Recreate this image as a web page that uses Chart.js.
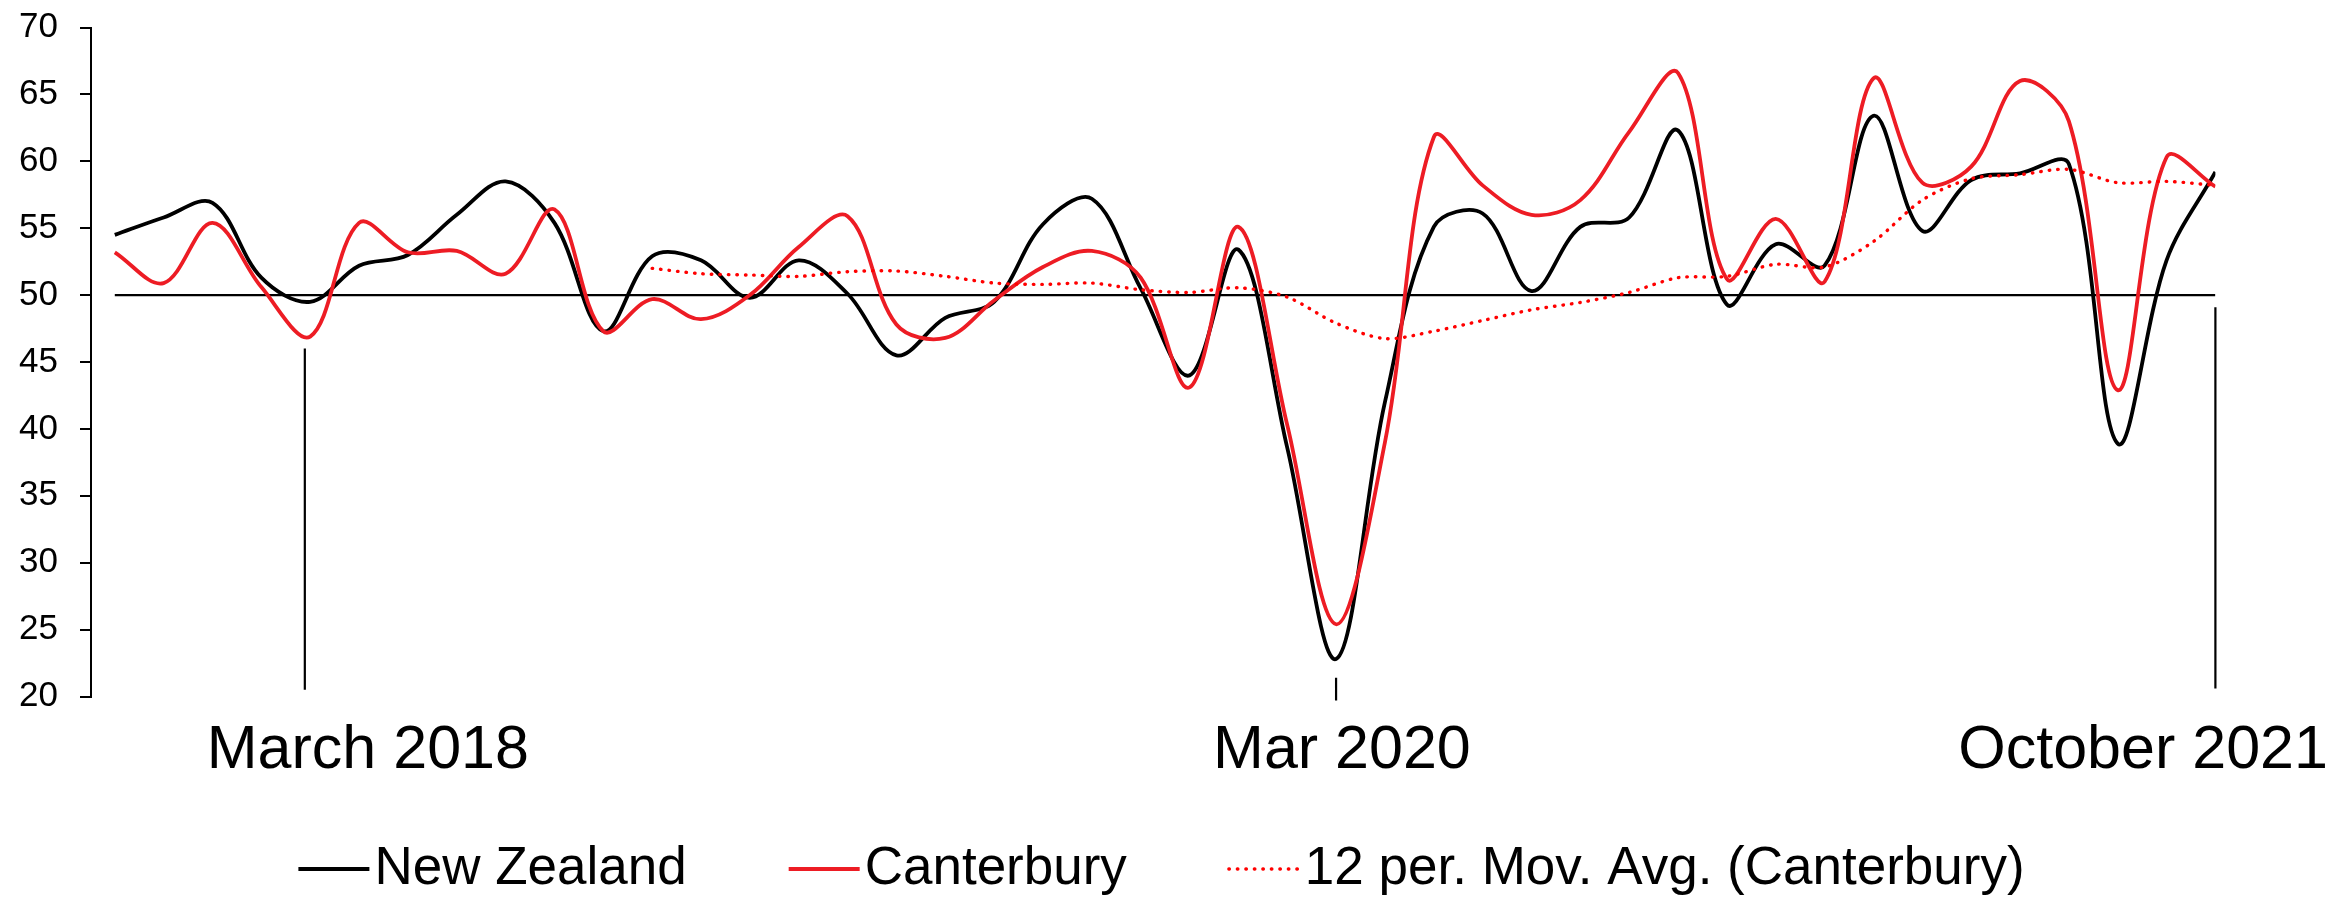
<!DOCTYPE html>
<html>
<head>
<meta charset="utf-8">
<script src="https://cdn.jsdelivr.net/npm/chart.js@4.4.1/dist/chart.umd.min.js"></script>
<style>
  html, body { margin: 0; padding: 0; background: #fff; }
  #wrap { width: 2331px; height: 898px; }
</style>
</head>
<body>
<div id="wrap"><canvas id="pmi"></canvas></div>
<script>
// monthly categories, Mar 2018 - Oct 2021
const months = [
  'Mar 2018', 'Apr 2018', 'May 2018', 'Jun 2018', 'Jul 2018', 'Aug 2018', 'Sep 2018', 'Oct 2018', 'Nov 2018', 'Dec 2018',
  'Jan 2019', 'Feb 2019', 'Mar 2019', 'Apr 2019', 'May 2019', 'Jun 2019', 'Jul 2019', 'Aug 2019', 'Sep 2019', 'Oct 2019', 'Nov 2019', 'Dec 2019',
  'Jan 2020', 'Feb 2020', 'Mar 2020', 'Apr 2020', 'May 2020', 'Jun 2020', 'Jul 2020', 'Aug 2020', 'Sep 2020', 'Oct 2020', 'Nov 2020', 'Dec 2020',
  'Jan 2021', 'Feb 2021', 'Mar 2021', 'Apr 2021', 'May 2021', 'Jun 2021', 'Jul 2021', 'Aug 2021', 'Sep 2021', 'Oct 2021'
];

const newZealand = [54.5, 55.8, 56.9, 51.3, 49.5, 52.2, 53.0, 56.0, 58.5, 55.4,
  47.3, 52.9, 52.6, 49.8, 52.6, 50.1, 45.5, 48.3, 49.5, 55.3, 57.2, 50.5,
  44.0, 53.4, 38.6, 22.8, 42.0, 55.1, 56.1, 50.3, 55.1, 55.8, 62.3, 49.3,
  53.8, 52.2, 63.4, 54.8, 58.6, 59.1, 59.8, 38.9, 52.6, 59.2];

const canterbury = [53.2, 50.9, 55.4, 50.6, 46.9, 55.4, 53.2, 53.3, 51.6, 56.4,
  47.3, 49.7, 48.2, 50.0, 53.6, 55.9, 47.8, 46.8, 49.6, 52.1, 53.3, 51.3,
  43.1, 55.1, 40.3, 25.4, 39.0, 61.8, 58.2, 56.0, 57.1, 62.2, 66.6, 51.2,
  55.7, 51.0, 66.2, 58.4, 59.6, 66.0, 63.0, 42.9, 60.3, 58.1];

// 12 per. moving average of Canterbury (as drawn)
const movingAvg = [null, null, null, null, null, null, null, null, null, null,
  null, 52.0, 51.6, 51.5, 51.4, 51.75, 51.8, 51.4, 50.9, 50.8, 50.9, 50.4,
  50.2, 50.55, 49.85, 47.9, 46.75, 47.3, 48.1, 48.9, 49.45, 50.2, 51.3, 51.4,
  52.3, 52.1, 54.0, 57.1, 58.7, 59.0, 59.4, 58.4, 58.5, 58.2];

const threshold = 50;

// axis labels and where they sit (in category units)
const xTickText = ['March 2018', 'Mar 2020', 'October 2021'];
const xTickPos = [5.18, 25.12, 41.52];

// the three drop lines / tick under the axis
const markerPos = [3.89, 25, 43];
const markerTop = [46.0, 21.4, 49.1];
const markerBottom = [20.5, 19.7, 20.6];

const FONT = "'Liberation Sans', Arial, Helvetica, sans-serif";
Chart.defaults.font.family = FONT;
Chart.defaults.color = '#000';

const toPoints = arr => arr.map((v, i) => ({ x: i, y: v }));

const markerData = [];
markerPos.forEach((p, i) => {
  markerData.push({ x: p, y: markerTop[i] }, { x: p, y: markerBottom[i] }, { x: p, y: null });
});

// legend drawn under the axis labels, line sample right against the text
const bottomLegend = {
  id: 'bottomLegend',
  afterDraw(chart) {
    const ctx = chart.ctx;
    const items = chart.data.datasets.filter(d => d.inLegend);
    const lineLen = 71, gap = 5, spacing = 102, y = 869;
    ctx.save();
    ctx.font = '53px ' + FONT;
    ctx.textBaseline = 'middle';
    let total = 0;
    items.forEach((d, i) => {
      total += lineLen + gap + ctx.measureText(d.label).width + (i ? spacing : 0);
    });
    let x = chart.width / 2 - total / 2 - 4;
    items.forEach(d => {
      ctx.beginPath();
      ctx.strokeStyle = d.borderColor;
      ctx.lineWidth = d.borderWidth;
      ctx.setLineDash(d.borderDash || []);
      ctx.lineCap = d.borderCapStyle || 'butt';
      ctx.moveTo(x, y);
      ctx.lineTo(x + lineLen, y);
      ctx.stroke();
      x += lineLen + gap;
      ctx.setLineDash([]);
      ctx.fillStyle = '#000';
      ctx.fillText(d.label, x, y);
      x += ctx.measureText(d.label).width + spacing;
    });
    ctx.restore();
  }
};

new Chart(document.getElementById('pmi'), {
  type: 'line',
  data: {
    labels: months,
    datasets: [
      {
        label: 'New Zealand',
        inLegend: true,
        data: toPoints(newZealand),
        borderColor: '#000000',
        borderWidth: 3.8,
        tension: 0.35,
        pointRadius: 0,
        order: 3
      },
      {
        label: 'Canterbury',
        inLegend: true,
        data: toPoints(canterbury),
        borderColor: '#ED1C24',
        borderWidth: 3.8,
        tension: 0.35,
        pointRadius: 0,
        order: 2
      },
      {
        label: '12 per. Mov. Avg. (Canterbury)',
        inLegend: true,
        data: toPoints(movingAvg),
        borderColor: '#FF0000',
        borderWidth: 3.4,
        borderDash: [0.5, 8],
        borderCapStyle: 'round',
        tension: 0.3,
        pointRadius: 0,
        order: 1
      },
      {
        label: 'fifty',
        data: [{ x: 0, y: threshold }, { x: months.length - 1, y: threshold }],
        borderColor: '#000000',
        borderWidth: 2.2,
        pointRadius: 0,
        order: 4
      },
      {
        label: 'markers',
        data: markerData,
        borderColor: '#000000',
        borderWidth: 2.2,
        pointRadius: 0,
        spanGaps: false,
        clip: false,
        order: 5
      }
    ]
  },
  options: {
    responsive: true,
    maintainAspectRatio: false,
    animation: false,
    events: [],
    layout: { padding: { top: 27.5, right: 115.6, bottom: 101.5, left: 0 } },
    plugins: {
      legend: { display: false },
      tooltip: { enabled: false }
    },
    scales: {
      x: {
        type: 'linear',
        min: -0.487,
        max: 43,
        grid: { display: false },
        border: { display: false },
        ticks: {
          autoSkip: false,
          maxRotation: 0,
          padding: 10,
          color: '#000',
          font: { size: 61 },
          callback: (v, i) => xTickText[i]
        },
        afterBuildTicks: s => { s.ticks = xTickPos.map(v => ({ value: v })); },
        afterFit: s => { s.height = 100; s.paddingLeft = 0; s.paddingRight = 0; }
      },
      y: {
        min: 20,
        max: 70,
        ticks: { stepSize: 5, padding: 22, color: '#000', font: { size: 35 } },
        grid: { drawOnChartArea: false, drawTicks: true, tickLength: 11, color: '#000', tickColor: '#000', lineWidth: 2 },
        border: { display: true, color: '#000', width: 2 },
        afterFit: s => { s.width = 91; s.paddingTop = 0; s.paddingBottom = 0; }
      }
    }
  },
  plugins: [bottomLegend]
});
</script>
</body>
</html>
